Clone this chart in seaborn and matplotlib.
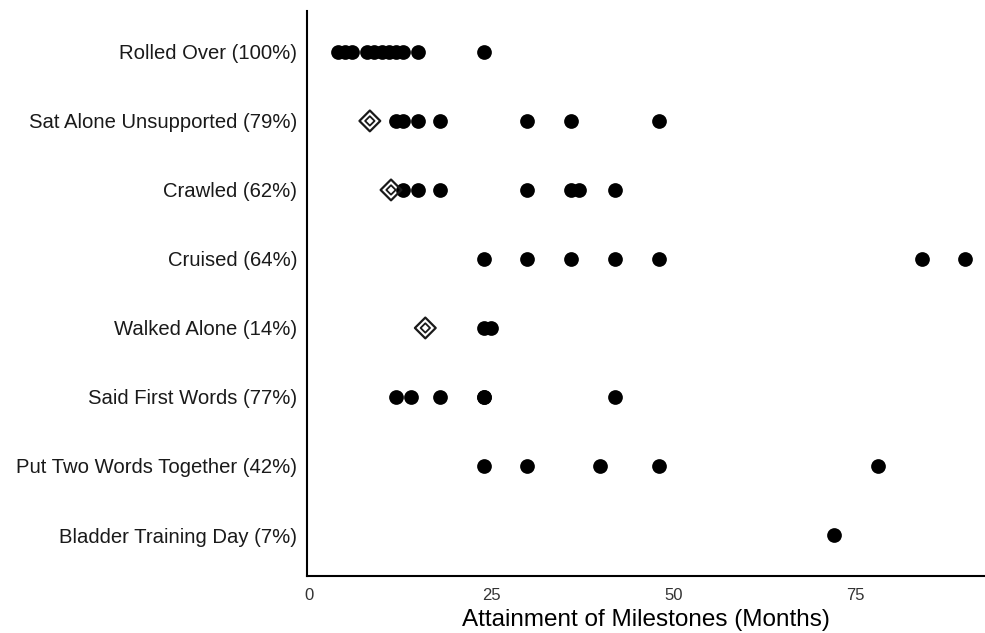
import pandas as pd
import numpy as np
import matplotlib
matplotlib.use("Agg")
import matplotlib.pyplot as plt
import seaborn as sns

# Milestone labels (top to bottom)
milestones = [
    "Rolled Over (100%)",
    "Sat Alone Unsupported (79%)",
    "Crawled (62%)",
    "Cruised (64%)",
    "Walked Alone (14%)",
    "Said First Words (77%)",
    "Put Two Words Together (42%)",
    "Bladder Training Day (7%)",
]

# Age (months) each child reached the milestone
rolled_over = [4, 5, 6, 8, 9, 10, 11, 12, 13, 15, 24]
sat_alone = [12, 13, 15, 18, 30, 36, 48]
crawled = [13, 15, 18, 30, 36, 37, 42]
cruised = [24, 30, 36, 42, 48, 84, 90]
walked = [24, 25]
first_words = [12, 14, 18, 24, 24, 42]
two_words = [24, 30, 40, 48, 78]
bladder = [72]

# Reference ages (hollow diamonds)
ref_milestones = ["Sat Alone Unsupported (79%)", "Crawled (62%)", "Walked Alone (14%)"]
ref_months = [8.4, 11.3, 16.0]

series = [rolled_over, sat_alone, crawled, cruised, walked, first_words, two_words, bladder]
df = pd.DataFrame({
    "Milestone": [m for m, vals in zip(milestones, series) for _ in vals],
    "Months": [v for vals in series for v in vals],
})
df_ref = pd.DataFrame({"Milestone": ref_milestones, "Months": ref_months})

sns.set_theme(style="white")
plt.rcParams["font.family"] = ["Liberation Sans", "DejaVu Sans"]

fig = plt.figure(figsize=(9.85, 6.33), dpi=100)
ax = fig.add_axes([0.3114, 0.0894, 0.6886, 0.894])

sns.stripplot(data=df, x="Months", y="Milestone", order=milestones, jitter=False,
              color="black", size=10.6, linewidth=0, ax=ax, zorder=3)

# double hollow diamond for the reference ages
sns.stripplot(data=df_ref, x="Months", y="Milestone", order=milestones, jitter=False,
              marker="D", color="black", facecolor="none", edgecolor="#1a1a1a",
              size=10.6, linewidth=1.6, ax=ax, zorder=4)
sns.stripplot(data=df_ref, x="Months", y="Milestone", order=milestones, jitter=False,
              marker="D", color="black", facecolor="none", edgecolor="#1a1a1a",
              size=4.8, linewidth=1.3, ax=ax, zorder=4)

ax.set_xlim(-0.25, 92.7)
ax.set_ylim(len(milestones) - 1 + 0.6, -0.6)
ax.set_xticks([0, 25, 50, 75])
ax.set_xlabel("Attainment of Milestones (Months)", fontsize=17.5, color="black", labelpad=5)
ax.set_ylabel("")

sns.despine(ax=ax)
for side in ["left", "bottom"]:
    ax.spines[side].set_color("black")
    ax.spines[side].set_linewidth(1.5)
ax.tick_params(axis="both", which="both", length=4, width=1.1, color="black")
ax.tick_params(axis="y", labelsize=14.6, labelcolor="#1a1a1a", pad=3)
ax.tick_params(axis="x", labelsize=12, labelcolor="#333333", pad=4)
ax.grid(False)

fig.savefig("out.png", dpi=100)
